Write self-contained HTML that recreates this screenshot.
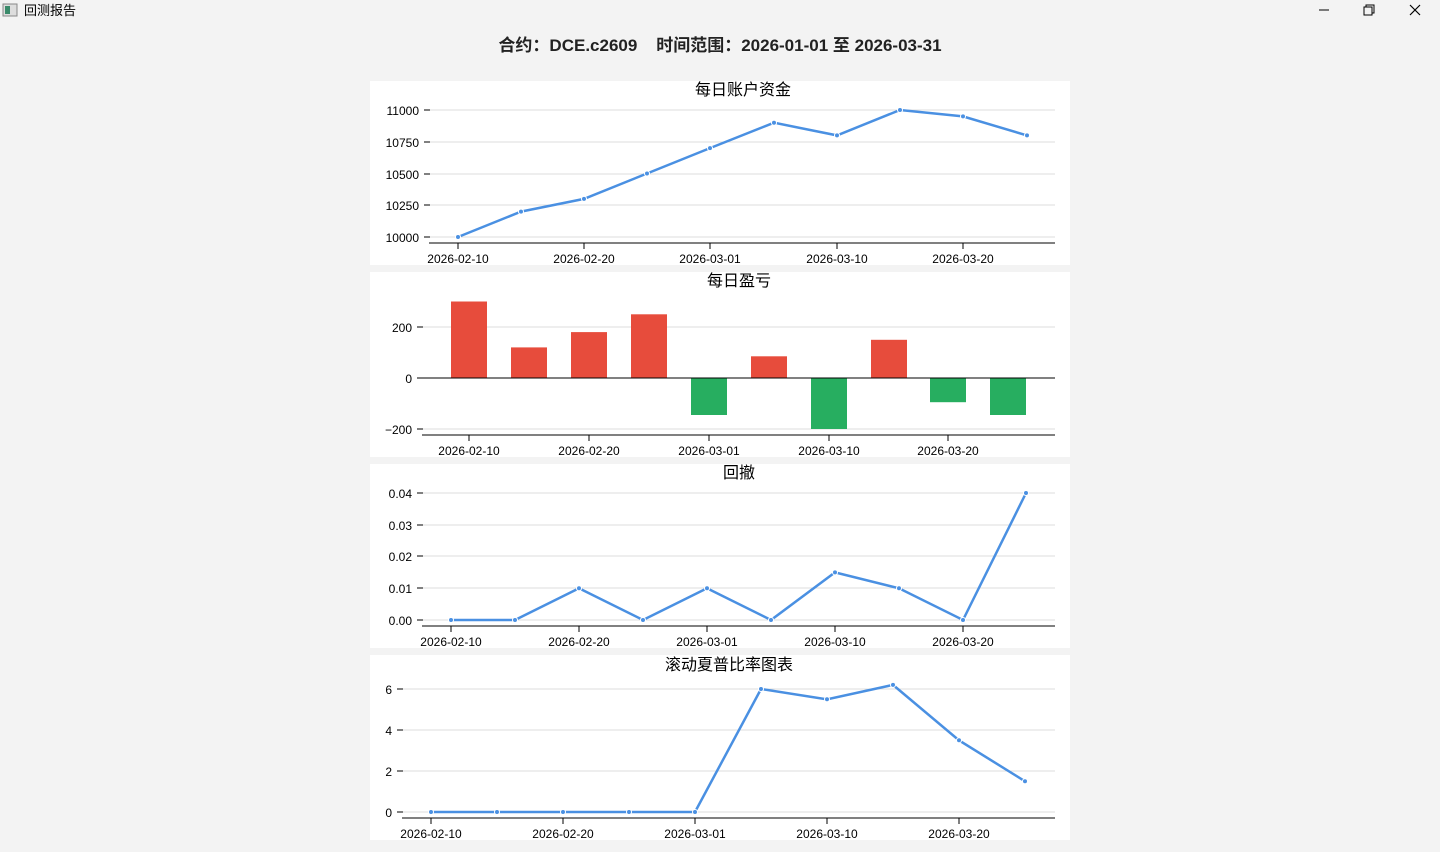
<!DOCTYPE html>
<html><head><meta charset="utf-8"><style>
html,body{margin:0;padding:0;width:1440px;height:852px;overflow:hidden;background:#f3f3f3;font-family:"Liberation Sans","Noto Sans CJK SC",sans-serif}
svg text{font-family:"Liberation Sans","Noto Sans CJK SC",sans-serif}
</style></head><body>
<svg width="1440" height="852" xmlns="http://www.w3.org/2000/svg">
<rect x="3" y="4" width="14" height="12" fill="#ddd" stroke="#888" stroke-width="1"/>
<rect x="5" y="6" width="5" height="8" fill="#3a8a6a"/>
<text x="24" y="15" font-size="13" fill="#000">回测报告</text>
<line x1="1319" y1="10" x2="1329" y2="10" stroke="#000" stroke-width="1"/>
<rect x="1364" y="7" width="8" height="8" fill="none" stroke="#000"/><path d="M1366 7 V5 H1374 V13 H1372" fill="none" stroke="#000"/>
<path d="M1410 5 L1420 15 M1420 5 L1410 15" stroke="#000" stroke-width="1.2"/>
<text x="720" y="51" font-size="17" font-weight="bold" text-anchor="middle" fill="#222" style="white-space:pre">合约：DCE.c2609    时间范围：2026-01-01 至 2026-03-31</text>

<g font-size="12" fill="#000">
<!-- Panel 1 -->
<rect x="370" y="81" width="700" height="184" fill="#fff"/>
<text x="743" y="95" font-size="16" text-anchor="middle">每日账户资金</text>
<g stroke="#dcdcdc"><line x1="429" x2="1055" y1="110" y2="110"/><line x1="429" x2="1055" y1="142" y2="142"/><line x1="429" x2="1055" y1="174" y2="174"/><line x1="429" x2="1055" y1="205" y2="205"/><line x1="429" x2="1055" y1="237" y2="237"/></g>
<line x1="429" x2="1055" y1="243" y2="243" stroke="#000"/>
<g stroke="#000"><line x1="424" x2="430" y1="110" y2="110"/><line x1="424" x2="430" y1="142" y2="142"/><line x1="424" x2="430" y1="174" y2="174"/><line x1="424" x2="430" y1="205" y2="205"/><line x1="424" x2="430" y1="237" y2="237"/>
<line x1="458" x2="458" y1="243" y2="249"/><line x1="584" x2="584" y1="243" y2="249"/><line x1="710" x2="710" y1="243" y2="249"/><line x1="837" x2="837" y1="243" y2="249"/><line x1="963" x2="963" y1="243" y2="249"/></g>
<g text-anchor="end"><text x="419" y="115">11000</text><text x="419" y="147">10750</text><text x="419" y="179">10500</text><text x="419" y="210">10250</text><text x="419" y="242">10000</text></g>
<g text-anchor="middle"><text x="458" y="263">2026-02-10</text><text x="584" y="263">2026-02-20</text><text x="710" y="263">2026-03-01</text><text x="837" y="263">2026-03-10</text><text x="963" y="263">2026-03-20</text></g>
<polyline fill="none" stroke="#4a90e2" stroke-width="2.5" points="458,237 521,211.6 584,198.9 647,173.5 710,148.1 774,122.7 837,135.4 900,110 963,116.4 1027,135.4"/>
<g fill="#4a90e2" stroke="#fff" stroke-width="1"><circle cx="458" cy="237" r="2.5"/><circle cx="521" cy="211.6" r="2.5"/><circle cx="584" cy="198.9" r="2.5"/><circle cx="647" cy="173.5" r="2.5"/><circle cx="710" cy="148.1" r="2.5"/><circle cx="774" cy="122.7" r="2.5"/><circle cx="837" cy="135.4" r="2.5"/><circle cx="900" cy="110" r="2.5"/><circle cx="963" cy="116.4" r="2.5"/><circle cx="1027" cy="135.4" r="2.5"/></g>

<!-- Panel 2 -->
<rect x="370" y="272" width="700" height="185" fill="#fff"/>
<text x="739" y="286" font-size="16" text-anchor="middle">每日盈亏</text>
<g stroke="#dcdcdc"><line x1="422" x2="1055" y1="327" y2="327"/><line x1="422" x2="1055" y1="429" y2="429"/></g>
<g fill="#e74c3c"><rect x="451" y="301.5" width="36" height="76.5"/><rect x="511" y="347.4" width="36" height="30.6"/><rect x="571" y="332.1" width="36" height="45.9"/><rect x="631" y="314.3" width="36" height="63.7"/><rect x="751" y="356.3" width="36" height="21.7"/><rect x="871" y="339.8" width="36" height="38.2"/></g>
<g fill="#27ae60"><rect x="691" y="378" width="36" height="37"/><rect x="811" y="378" width="36" height="51"/><rect x="930" y="378" width="36" height="24.2"/><rect x="990" y="378" width="36" height="37"/></g>
<line x1="422" x2="1055" y1="378" y2="378" stroke="#000"/>
<line x1="422" x2="1055" y1="435" y2="435" stroke="#000"/>
<g stroke="#000"><line x1="417" x2="423" y1="327" y2="327"/><line x1="417" x2="423" y1="378" y2="378"/><line x1="417" x2="423" y1="429" y2="429"/>
<line x1="469" x2="469" y1="435" y2="441"/><line x1="589" x2="589" y1="435" y2="441"/><line x1="709" x2="709" y1="435" y2="441"/><line x1="829" x2="829" y1="435" y2="441"/><line x1="948" x2="948" y1="435" y2="441"/></g>
<g text-anchor="end"><text x="412" y="332">200</text><text x="412" y="383">0</text><text x="412" y="434">−200</text></g>
<g text-anchor="middle"><text x="469" y="455">2026-02-10</text><text x="589" y="455">2026-02-20</text><text x="709" y="455">2026-03-01</text><text x="829" y="455">2026-03-10</text><text x="948" y="455">2026-03-20</text></g>

<!-- Panel 3 -->
<rect x="370" y="464" width="700" height="184" fill="#fff"/>
<text x="739" y="478" font-size="16" text-anchor="middle">回撤</text>
<g stroke="#dcdcdc"><line x1="422" x2="1055" y1="493" y2="493"/><line x1="422" x2="1055" y1="525" y2="525"/><line x1="422" x2="1055" y1="556" y2="556"/><line x1="422" x2="1055" y1="588" y2="588"/><line x1="422" x2="1055" y1="620" y2="620"/></g>
<line x1="422" x2="1055" y1="626" y2="626" stroke="#000"/>
<g stroke="#000"><line x1="417" x2="423" y1="493" y2="493"/><line x1="417" x2="423" y1="525" y2="525"/><line x1="417" x2="423" y1="556" y2="556"/><line x1="417" x2="423" y1="588" y2="588"/><line x1="417" x2="423" y1="620" y2="620"/>
<line x1="451" x2="451" y1="626" y2="632"/><line x1="579" x2="579" y1="626" y2="632"/><line x1="707" x2="707" y1="626" y2="632"/><line x1="835" x2="835" y1="626" y2="632"/><line x1="963" x2="963" y1="626" y2="632"/></g>
<g text-anchor="end"><text x="412" y="498">0.04</text><text x="412" y="530">0.03</text><text x="412" y="561">0.02</text><text x="412" y="593">0.01</text><text x="412" y="625">0.00</text></g>
<g text-anchor="middle"><text x="451" y="646">2026-02-10</text><text x="579" y="646">2026-02-20</text><text x="707" y="646">2026-03-01</text><text x="835" y="646">2026-03-10</text><text x="963" y="646">2026-03-20</text></g>
<polyline fill="none" stroke="#4a90e2" stroke-width="2.5" points="451,620 515,620 579,588.3 643,620 707,588.3 771,620 835,572.4 899,588.3 963,620 1026,493"/>
<g fill="#4a90e2" stroke="#fff" stroke-width="1"><circle cx="451" cy="620" r="2.5"/><circle cx="515" cy="620" r="2.5"/><circle cx="579" cy="588.3" r="2.5"/><circle cx="643" cy="620" r="2.5"/><circle cx="707" cy="588.3" r="2.5"/><circle cx="771" cy="620" r="2.5"/><circle cx="835" cy="572.4" r="2.5"/><circle cx="899" cy="588.3" r="2.5"/><circle cx="963" cy="620" r="2.5"/><circle cx="1026" cy="493" r="2.5"/></g>

<!-- Panel 4 -->
<rect x="370" y="655" width="700" height="185" fill="#fff"/>
<text x="729" y="670" font-size="16" text-anchor="middle">滚动夏普比率图表</text>
<g stroke="#dcdcdc"><line x1="402" x2="1055" y1="689" y2="689"/><line x1="402" x2="1055" y1="730" y2="730"/><line x1="402" x2="1055" y1="771" y2="771"/><line x1="402" x2="1055" y1="812" y2="812"/></g>
<line x1="402" x2="1055" y1="818" y2="818" stroke="#000"/>
<g stroke="#000"><line x1="397" x2="403" y1="689" y2="689"/><line x1="397" x2="403" y1="730" y2="730"/><line x1="397" x2="403" y1="771" y2="771"/><line x1="397" x2="403" y1="812" y2="812"/>
<line x1="431" x2="431" y1="818" y2="824"/><line x1="563" x2="563" y1="818" y2="824"/><line x1="695" x2="695" y1="818" y2="824"/><line x1="827" x2="827" y1="818" y2="824"/><line x1="959" x2="959" y1="818" y2="824"/></g>
<g text-anchor="end"><text x="392" y="694">6</text><text x="392" y="735">4</text><text x="392" y="776">2</text><text x="392" y="817">0</text></g>
<g text-anchor="middle"><text x="431" y="838">2026-02-10</text><text x="563" y="838">2026-02-20</text><text x="695" y="838">2026-03-01</text><text x="827" y="838">2026-03-10</text><text x="959" y="838">2026-03-20</text></g>
<polyline fill="none" stroke="#4a90e2" stroke-width="2.5" points="431,812 497,812 563,812 629,812 695,812 761,689 827,699.3 893,684.9 959,740.3 1025,781.3"/>
<g fill="#4a90e2" stroke="#fff" stroke-width="1"><circle cx="431" cy="812" r="2.5"/><circle cx="497" cy="812" r="2.5"/><circle cx="563" cy="812" r="2.5"/><circle cx="629" cy="812" r="2.5"/><circle cx="695" cy="812" r="2.5"/><circle cx="761" cy="689" r="2.5"/><circle cx="827" cy="699.3" r="2.5"/><circle cx="893" cy="684.9" r="2.5"/><circle cx="959" cy="740.3" r="2.5"/><circle cx="1025" cy="781.3" r="2.5"/></g>
</g>
</svg>
</body></html>
